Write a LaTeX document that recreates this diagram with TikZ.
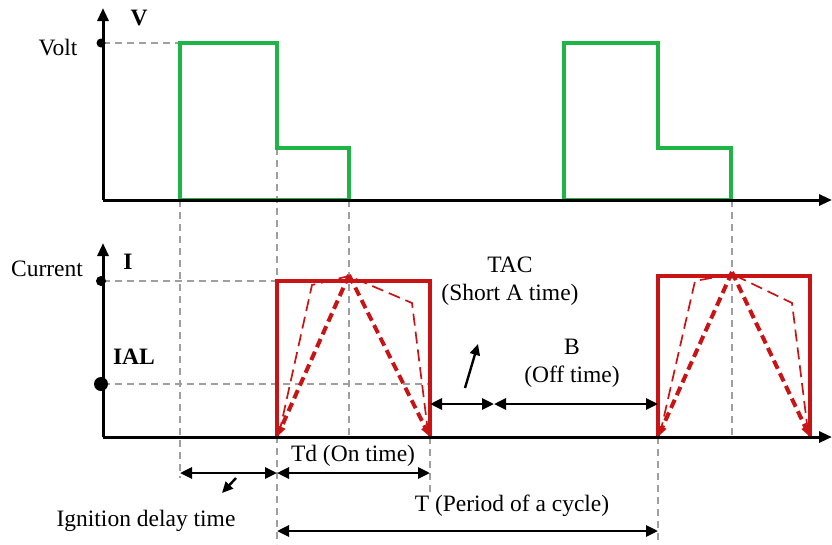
\documentclass[tikz,border=0pt]{standalone}
\usepackage{fontspec}
\setmainfont{Liberation Serif}
\usetikzlibrary{arrows.meta,positioning}
\definecolor{wgreen}{RGB}{30,180,70}
\definecolor{wred}{RGB}{200,20,20}

\begin{document}
\begin{tikzpicture}[x=1pt,y=-1pt,
font=\fontsize{23.5}{28}\selectfont,
axis/.style={line width=3pt,-{Triangle[length=13pt,width=11pt]}},
guide/.style={gray!75,line width=1.5pt,dash pattern=on 7pt off 5pt},
volt/.style={wgreen,line width=4pt,line join=miter},
pulse/.style={wred,line width=4.2pt,line join=miter},
ramp/.style={wred,line width=4pt,dash pattern=on 9pt off 5pt,-{Triangle[length=11pt,width=8pt]}},
slope/.style={wred,line width=1.7pt,dash pattern=on 12pt off 6pt},
span/.style={line width=2.8pt,{Triangle[length=12pt,width=11pt]}-{Triangle[length=12pt,width=11pt]}},
pointer/.style={line width=2.4pt,-{Triangle[length=11pt,width=10pt]}},
lvl/.style={circle,fill,inner sep=0pt}]
\useasboundingbox (0,0) rectangle (832,544);

% axes
\coordinate (vo) at (103,200); \coordinate (vtop) at (103,8); \coordinate (vend) at (832,200);
\coordinate (io) at (103,437); \coordinate (itop) at (103,243); \coordinate (iend) at (832,437);

% time marks
\coordinate (ign) at (180,200);
\coordinate (on1) at (277,148);
\coordinate (mid1) at (349,200);
\coordinate (off1) at (430,437);
\coordinate (on2) at (658,437);
\coordinate (mid2) at (732,200);

% guides
\draw[guide] (103,43) -- (180,43);
\draw[guide] (103,281) -- (277,281);
\draw[guide] (103,384) -- (430,384);
\draw[guide] (ign) -- (180,478);
\draw[guide] (on1) -- (277,544);
\draw[guide] (mid1) -- (349,440);
\draw[guide] (off1) -- (430,495);
\draw[guide] (on2) -- (658,544);
\draw[guide] (mid2) -- (732,437);

% voltage
\draw[volt] (180,200) -- (180,43) -- (277,43) -- (277,148) -- (349,148) -- (349,200) -- cycle;
\draw[volt] (564,200) -- (564,43) -- (658,43) -- (658,148) -- (731,148) -- (731,200) -- cycle;

% current, first pulse
\coordinate (a1) at (277,437); \coordinate (b1) at (430,437); \coordinate (pk1) at (349,275);
\draw[slope] (279,434) -- (312,285) -- (349,276) -- (412,303) -- (428,432);
\draw[pulse] (a1) -- (277,281) -- (430,281) -- (b1);
\draw[ramp] (pk1) -- (a1);
\draw[ramp] (pk1) -- (b1);

% current, second pulse
\coordinate (a2) at (658,437); \coordinate (b2) at (810,437); \coordinate (pk2) at (732,272);
\draw[slope] (660,434) -- (695,281) -- (732,274) -- (792,303) -- (808,432);
\draw[pulse] (a2) -- (658,276) -- (810,276) -- (b2);
\draw[ramp] (pk2) -- (a2);
\draw[ramp] (pk2) -- (b2);

\draw[axis] (vo) -- (vtop);
\draw[axis] (vo) -- (vend);
\draw[axis] (io) -- (itop);
\draw[axis] (io) -- (iend);

\node[lvl,minimum size=9pt] (vdot) at (101,43) {};
\node[lvl,minimum size=10pt] (idot) at (101,281) {};
\node[lvl,minimum size=14pt] (aldot) at (101,384) {};

\node (vlab) at (58,48) {Volt};
\node[font=\fontsize{23.5}{28}\selectfont\bfseries] (vsym) at (139,18) {V};
\node (clab) at (47,269) {Current};
\node[font=\fontsize{23.5}{28}\selectfont\bfseries] (isym) at (128,262) {I};
\node[font=\fontsize{23.5}{28}\selectfont\bfseries] (ial) at (134,357) {IAL};

% spans
\coordinate (ig0) at (180,473); \coordinate (ig1) at (277,473); \coordinate (td1) at (430,473);
\coordinate (tac0) at (430,404); \coordinate (tac1) at (494,404); \coordinate (bb1) at (658,404);
\coordinate (tt0) at (277,531); \coordinate (tt1) at (658,531);
\draw[span] (ig0) -- (ig1);
\draw[span] (ig1) -- (td1);
\draw[span] (tac0) -- (tac1);
\draw[span] (tac1) -- (bb1);
\draw[span] (tt0) -- (tt1);

\node (ignlab) at (146,521) {Ignition delay time};
\node (tdlab) at (353,456) {Td (On time)};
\node (tlab) at (512,506) {T (Period of a cycle)};
\node[align=center] (taclab) at (510,281) {TAC\\(Short A time)};
\node[align=center] (blab) at (572,363) {B\\(Off time)};

\coordinate (igp) at (236,478); \coordinate (tacp) at (465,388);
\draw[pointer] (igp) -- (222,493);
\draw[pointer] (tacp) -- (478,344);
\end{tikzpicture}
\end{document}
